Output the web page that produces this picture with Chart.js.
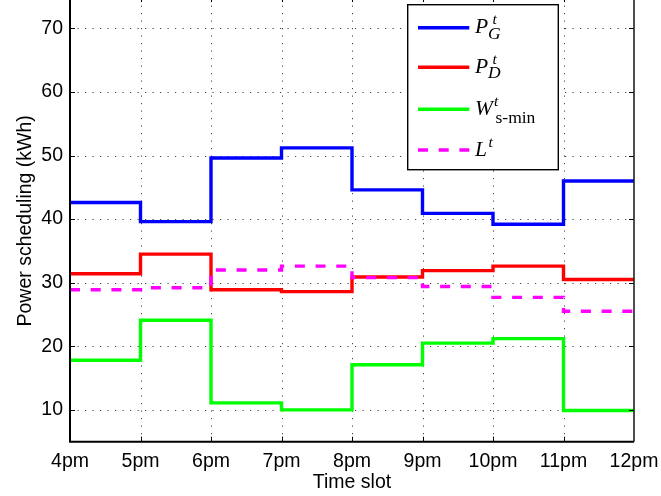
<!DOCTYPE html>
<html>
<head>
<meta charset="utf-8">
<script src="https://cdn.jsdelivr.net/npm/chart.js@4.4.0/dist/chart.umd.min.js"></script>
<style>
  html, body { margin: 0; padding: 0; background: #fff; }
  #wrap { width: 661px; height: 496px; }
</style>
</head>
<body>
<div id="wrap"><canvas id="c" width="661" height="496"></canvas></div>
<script>
// Hourly slots and tick labels
const timeLabels = ['4pm', '5pm', '6pm', '7pm', '8pm', '9pm', '10pm', '11pm', '12pm'];
const yTicks = [10, 20, 30, 40, 50, 60, 70];

// Scheduled power per slot (kWh)
const powerGrid   = [42.6, 39.6, 49.6, 51.2, 44.6, 40.9, 39.2, 46.0]; // P_G^t
const powerDemand = [31.4, 34.5, 28.9, 28.6, 30.9, 31.9, 32.6, 30.5]; // P_D^t
const windMin     = [17.8, 24.1, 11.1, 10.0, 17.1, 20.5, 21.2, 9.9];  // W_s-min^t
const loadL       = [28.9, 29.2, 32.0, 32.6, 30.8, 29.4, 27.7, 25.5]; // L^t

// Each slot value holds from its start hour to the next one
function stepPoints(values) {
  const pts = values.map((v, i) => ({ x: i, y: v }));
  pts.push({ x: values.length, y: values[values.length - 1] });
  return pts;
}

const axisFont = { family: '"Liberation Sans", Arial, sans-serif', size: 19.5 };
const LINE_W = 3.4;
const DASH = [10, 10.7];

// Legend entries: colour, dash, main symbol, superscript, subscript
const legendRows = [
  { color: '#0000ff', dash: [], main: 'P', sup: 't', sub: 'G', subItalic: true, supDx: 17.5, subDx: 13, subDy: 5.5 },
  { color: '#ff0000', dash: [], main: 'P', sup: 't', sub: 'D', subItalic: true, supDx: 17.5, subDx: 13, subDy: 5.5 },
  { color: '#00ff00', dash: [], main: 'W', sup: 't', sub: 's-min', subItalic: false, supDx: 19, subDx: 20.5, subDy: 8.5 },
  { color: '#ff00ff', dash: DASH, main: 'L', sup: 't', sub: '', subItalic: true, supDx: 13.5, subDx: 0, subDy: 0 }
];

const framePlugin = {
  id: 'matlabFrame',
  beforeDatasetsDraw(chart) {
    const { ctx, chartArea: a, scales: { x, y } } = chart;
    ctx.save();
    ctx.strokeStyle = '#444';
    ctx.lineWidth = 1;
    ctx.setLineDash([1.2, 6.3]);
    yTicks.forEach(v => {
      const py = Math.round(y.getPixelForValue(v)) + 0.5;
      ctx.beginPath();
      ctx.moveTo(a.left, py);
      ctx.lineTo(a.right, py);
      ctx.stroke();
    });
    for (let i = 1; i < timeLabels.length - 1; i++) {
      const px = Math.round(x.getPixelForValue(i)) + 0.5;
      ctx.beginPath();
      ctx.moveTo(px, a.bottom);
      ctx.lineTo(px, a.top);
      ctx.stroke();
    }
    ctx.restore();
  },
  afterDatasetsDraw(chart) {
    const { ctx, chartArea: a, scales: { x, y } } = chart;
    ctx.save();
    ctx.setLineDash([]);
    ctx.strokeStyle = '#000';

    // inward tick marks
    ctx.lineWidth = 1;
    yTicks.forEach(v => {
      const py = Math.round(y.getPixelForValue(v)) + 0.5;
      ctx.beginPath();
      ctx.moveTo(a.left, py); ctx.lineTo(a.left + 5, py);
      ctx.moveTo(a.right, py); ctx.lineTo(a.right - 5, py);
      ctx.stroke();
    });
    for (let i = 1; i < timeLabels.length - 1; i++) {
      const px = Math.round(x.getPixelForValue(i)) + 0.5;
      ctx.beginPath();
      ctx.moveTo(px, a.bottom); ctx.lineTo(px, a.bottom - 5);
      ctx.moveTo(px, a.top); ctx.lineTo(px, a.top + 2);
      ctx.stroke();
    }

    // axis box
    ctx.lineWidth = 2;
    ctx.beginPath();
    ctx.moveTo(a.left, a.top);
    ctx.lineTo(a.left, a.bottom);
    ctx.lineTo(a.right, a.bottom);
    ctx.stroke();
    ctx.lineWidth = 1.6;
    ctx.strokeStyle = '#222';
    ctx.beginPath();
    ctx.moveTo(a.right, a.top);
    ctx.lineTo(a.right, a.bottom);
    ctx.stroke();

    // legend box
    const bx = 407.7, by = 4.7, bw = 150.6, bh = 165;
    ctx.fillStyle = '#fff';
    ctx.fillRect(bx, by, bw, bh);
    ctx.strokeStyle = '#000';
    ctx.lineWidth = 1.4;
    ctx.strokeRect(bx, by, bw, bh);

    const rowY = [27.7, 67.3, 109.3, 150];
    const tx = 475;
    legendRows.forEach((r, i) => {
      const ly = rowY[i];
      ctx.strokeStyle = r.color;
      ctx.lineWidth = LINE_W;
      ctx.lineCap = 'butt';
      ctx.setLineDash(r.dash);
      ctx.beginPath();
      ctx.moveTo(418, ly);
      ctx.lineTo(469.3, ly);
      ctx.stroke();
      ctx.setLineDash([]);

      const base = ly + 5.5;
      ctx.fillStyle = '#000';
      ctx.textAlign = 'left';
      ctx.textBaseline = 'alphabetic';
      ctx.font = 'italic 21.5px "Liberation Serif", "Times New Roman", serif';
      ctx.fillText(r.main, tx, base);
      ctx.font = 'italic 15.5px "Liberation Serif", "Times New Roman", serif';
      ctx.fillText(r.sup, tx + r.supDx, base - 9);
      if (r.sub) {
        ctx.font = (r.subItalic ? 'italic ' : '') + '17.5px "Liberation Serif", "Times New Roman", serif';
        ctx.fillText(r.sub, tx + r.subDx, base + r.subDy);
      }
    });
    ctx.restore();
  }
};

const lineSet = (label, values, color, order, dash) => ({
  label,
  data: stepPoints(values),
  borderColor: color,
  backgroundColor: color,
  borderWidth: LINE_W,
  borderDash: dash || [],
  stepped: 'before',
  pointRadius: 0,
  fill: false,
  order
});

new Chart(document.getElementById('c').getContext('2d'), {
  type: 'line',
  data: {
    datasets: [
      lineSet('P_G', powerGrid, '#0000ff', 4),
      lineSet('P_D', powerDemand, '#ff0000', 3),
      lineSet('W_s-min', windMin, '#00ff00', 2),
      lineSet('L', loadL, '#ff00ff', 1, DASH)
    ]
  },
  options: {
    responsive: false,
    animation: false,
    devicePixelRatio: 1,
    layout: { padding: { top: 0, right: 27, left: 0, bottom: 0 } },
    plugins: { legend: { display: false }, tooltip: { enabled: false } },
    elements: { line: { tension: 0, borderCapStyle: 'butt', borderJoinStyle: 'miter' } },
    scales: {
      x: {
        type: 'linear',
        min: 0,
        max: timeLabels.length - 1,
        afterBuildTicks: s => { s.ticks = timeLabels.map((_, i) => ({ value: i })); },
        ticks: {
          callback: (v, i) => timeLabels[i],
          font: axisFont, color: '#000', padding: 8,
          maxRotation: 0, autoSkip: false
        },
        grid: { display: false, drawTicks: false },
        border: { display: false },
        title: { display: true, text: 'Time slot', font: axisFont, color: '#000', padding: { top: 0, bottom: 2 } },
        afterFit: s => { s.height = 54.3; s.paddingLeft = 0; s.paddingRight = 0; }
      },
      y: {
        min: 5,
        max: 74.45,
        afterBuildTicks: s => { s.ticks = yTicks.map(v => ({ value: v })); },
        ticks: { font: axisFont, color: '#000', padding: 7 },
        grid: { display: false, drawTicks: false },
        border: { display: false },
        title: { display: true, text: 'Power scheduling (kWh)', font: axisFont, color: '#000', padding: { top: 14, bottom: 0 } },
        afterFit: s => { s.width = 70; s.paddingTop = 0; s.paddingBottom = 0; }
      }
    }
  },
  plugins: [framePlugin]
});
</script>
</body>
</html>
